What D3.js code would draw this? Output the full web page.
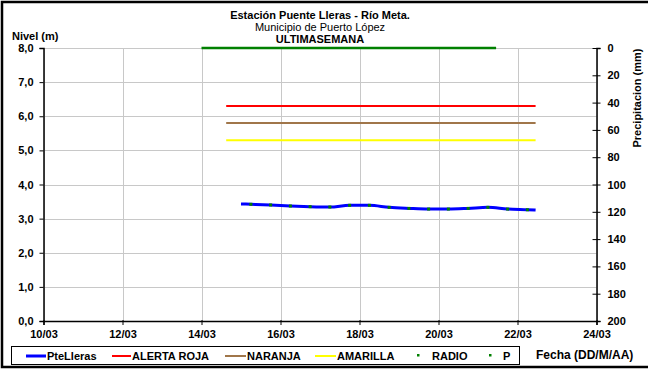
<!DOCTYPE html>
<html><head><meta charset="utf-8">
<script src="https://cdn.jsdelivr.net/npm/d3@7"></script>
<style>
html,body{margin:0;padding:0;background:#fff;}
svg{display:block;font-family:"Liberation Sans",Arial,sans-serif;}
</style></head>
<body>
<svg id="chart" width="648" height="370"></svg>
<script>
// ---- data ----
const xTickLabels = ["10/03","12/03","14/03","16/03","18/03","20/03","22/03","24/03"];
const levelTicks = [0,1,2,3,4,5,6,7,8];
const precipTicks = [0,20,40,60,80,100,120,140,160,180,200];

const levelTimes = ["15/03 00:00","15/03 06:00","15/03 18:00","16/03 06:00","16/03 18:00","17/03 06:00","17/03 18:00","18/03 06:00","18/03 18:00","19/03 06:00","19/03 18:00","20/03 06:00","20/03 18:00","21/03 06:00","21/03 18:00","22/03 06:00","22/03 11:00"];
const levelValues = [3.43,3.42,3.40,3.37,3.35,3.34,3.39,3.39,3.33,3.30,3.28,3.28,3.30,3.33,3.28,3.26,3.25];

const radioTimes = ["15/03 06:00","15/03 18:00","16/03 06:00","16/03 18:00","17/03 06:00","17/03 18:00","18/03 06:00","18/03 18:00","19/03 06:00","19/03 18:00","20/03 06:00","20/03 18:00","21/03 06:00","21/03 18:00","22/03 06:00"];
const radioValues = [3.42,3.40,3.37,3.35,3.34,3.39,3.39,3.33,3.30,3.28,3.28,3.30,3.33,3.28,3.26];

const alertTimes = ["14/03 15:00","22/03 11:00"];
const alertRoja = [6.3,6.3];
const alertNaranja = [5.8,5.8];
const alertAmarilla = [5.3,5.3];

const pTimes = ["14/03 00:00","15/03 00:00","16/03 00:00","17/03 00:00","18/03 00:00","19/03 00:00","20/03 00:00","21/03 00:00","21/03 11:00"];
const pValues = [0,0,0,0,0,0,0,0,0];

const legendLabels = ["PteLleras","ALERTA ROJA","NARANJA","AMARILLA","RADIO","P"];
const colors = {level:"#0000ff", roja:"#ff0000", naranja:"#a0764a", amarilla:"#ffff00", radio:"#008000", p:"#008000"};

// ---- helpers ----
const parse = s => {
  const [d, t] = s.split(" ");
  const [dd, mm] = d.split("/").map(Number);
  const [hh, mi] = (t || "00:00").split(":").map(Number);
  return new Date(2013, mm - 1, dd, hh, mi);
};

const svg = d3.select("#chart");
const L = 43.5, R = 596.5, T = 48, B = 321;

const x = d3.scaleTime().domain([parse(xTickLabels[0]), parse(xTickLabels[xTickLabels.length-1])]).range([L, R]);
const y = d3.scaleLinear().domain([0, 8]).range([B, T]);
const yP = d3.scaleLinear().domain([0, 200]).range([T, B]);

// outer frame
svg.append("rect").attr("x",2).attr("y",2).attr("width",660).attr("height",365)
  .attr("fill","none").attr("stroke","#000").attr("stroke-width",2.5);

// grid
const grid = svg.append("g").attr("stroke","#c8c8c8").attr("stroke-width",1);
levelTicks.forEach(v => grid.append("line").attr("x1",L).attr("x2",R).attr("y1",Math.round(y(v))+0.5).attr("y2",Math.round(y(v))+0.5));
xTickLabels.forEach(s => grid.append("line").attr("x1",Math.round(x(parse(s)))+0.5).attr("x2",Math.round(x(parse(s)))+0.5).attr("y1",T).attr("y2",B));

// axes
const fmt = d3.format(".1f");
const axL = svg.append("g").attr("transform",`translate(${L},0)`)
  .call(d3.axisLeft(y).tickValues(levelTicks).tickSize(4).tickFormat(v => fmt(v).replace(".",",")));
const axR = svg.append("g").attr("transform",`translate(${R},0)`)
  .call(d3.axisRight(yP).tickValues(precipTicks).tickSize(4));
const axB = svg.append("g").attr("transform",`translate(0,${B})`)
  .call(d3.axisBottom(x).tickValues(xTickLabels.map(parse)).tickSize(4).tickFormat(d3.timeFormat("%d/%m")));
[axL, axR, axB].forEach(a => {
  a.select(".domain").attr("stroke","#000").attr("stroke-width",1.5);
  a.selectAll(".tick line").attr("stroke","#000");
  a.selectAll("text").attr("fill","#000").style("font-weight","bold").style("font-size","11px");
});
axR.selectAll(".tick line").attr("x1",-4);
axB.selectAll(".tick line").attr("y1",-1);
axL.selectAll("text").attr("x",-10);
axR.selectAll("text").attr("x",11);
axB.selectAll("text").attr("y",9);

// alert lines
const line = d3.line().x(d => x(d[0])).y(d => y(d[1]));
[[alertRoja,colors.roja],[alertNaranja,colors.naranja],[alertAmarilla,colors.amarilla]].forEach(([vals,c]) => {
  svg.append("path").datum(alertTimes.map((t,i)=>[parse(t), vals[i]]))
    .attr("d", line).attr("fill","none").attr("stroke",c).attr("stroke-width",2);
});

// precipitation P (at 0 mm)
const lineP = d3.line().x(d => x(d[0])).y(d => yP(d[1]));
svg.append("path").datum(pTimes.map((t,i)=>[parse(t), pValues[i]]))
  .attr("d", lineP).attr("fill","none").attr("stroke",colors.p).attr("stroke-width",2.5);

// level line
svg.append("path").datum(levelTimes.map((t,i)=>[parse(t), levelValues[i]]))
  .attr("d", line.curve(d3.curveMonotoneX)).attr("fill","none").attr("stroke",colors.level).attr("stroke-width",3)
  .attr("stroke-linejoin","round");

// radio markers
svg.append("g").selectAll("rect").data(radioTimes.map((t,i)=>[parse(t), radioValues[i]])).join("rect")
  .attr("x", d => x(d[0]) - 1.5).attr("y", d => y(d[1]) - 1.5).attr("width",3).attr("height",3)
  .attr("fill", colors.radio);

// titles
const tg = svg.append("g").attr("text-anchor","middle").attr("fill","#000").style("font-size","11px");
tg.append("text").attr("x",320).attr("y",19).style("font-weight","bold").text("Estación Puente Lleras - Río Meta.");
tg.append("text").attr("x",320).attr("y",31).text("Municipio de Puerto López");
tg.append("text").attr("x",320).attr("y",43).style("font-weight","bold").text("ULTIMASEMANA");

svg.append("text").attr("x",12).attr("y",40).style("font-size","11px").style("font-weight","bold").text("Nivel (m)");
svg.append("text").attr("transform","translate(641,98) rotate(-90)").attr("text-anchor","middle")
  .style("font-size","11px").style("font-weight","bold").text("Precipitacion (mm)");

// legend
const lg = svg.append("g");
lg.append("rect").attr("x",11.5).attr("y",346.5).attr("width",508).attr("height",18)
  .attr("fill","#fff").attr("stroke","#000").attr("stroke-width",1);
const legItems = [
  {label:legendLabels[0], c:colors.level, type:"line", x0:26, tx:47, w:3},
  {label:legendLabels[1], c:colors.roja, type:"line", x0:112, tx:132, w:2},
  {label:legendLabels[2], c:colors.naranja, type:"line", x0:225, tx:247, w:2},
  {label:legendLabels[3], c:colors.amarilla, type:"line", x0:315, tx:337, w:2},
  {label:legendLabels[4], c:colors.radio, type:"pt", x0:418, tx:432},
  {label:legendLabels[5], c:colors.p, type:"pt", x0:490, tx:503}
];
legItems.forEach(it => {
  if (it.type === "line") {
    lg.append("line").attr("x1",it.x0).attr("x2",it.tx-1).attr("y1",356).attr("y2",356)
      .attr("stroke",it.c).attr("stroke-width",it.w);
  } else {
    lg.append("rect").attr("x",it.x0-1).attr("y",354).attr("width",2.5).attr("height",2.5).attr("fill",it.c);
  }
  lg.append("text").attr("x",it.tx).attr("y",360).style("font-size","11px").style("font-weight","bold").text(it.label);
});
svg.append("text").attr("x",536).attr("y",359).style("font-size","12px").style("font-weight","bold").text("Fecha (DD/M/AA)");
</script>
</body></html>
